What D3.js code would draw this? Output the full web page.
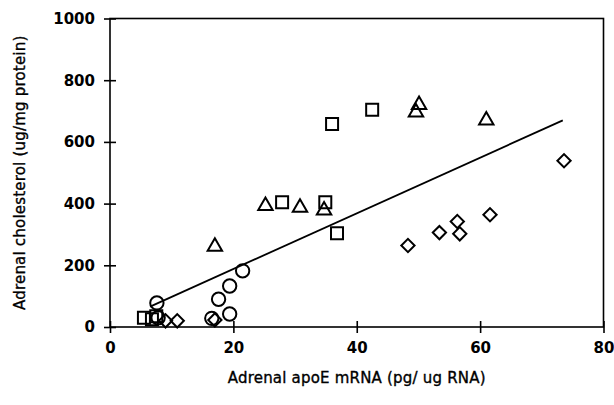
<!DOCTYPE html>
<html><head><meta charset="utf-8">
<script src="https://cdn.jsdelivr.net/npm/d3@7"></script>
<style>body{margin:0;background:#fff}svg{display:block}</style>
</head><body>
<svg id="c" width="614" height="405"></svg>
<script>
const squaresX = [5.5, 6.8, 7.5, 27.9, 34.9, 36.0, 36.8, 42.5];
const squaresY = [30, 25, 35, 404, 404, 658, 304, 704];
const trianglesX = [17.0, 25.2, 30.8, 34.7, 49.6, 50.1, 61.0];
const trianglesY = [261, 393, 387, 378, 696, 720, 670];
const circlesX = [7.6, 7.8, 16.5, 17.6, 19.4, 19.4, 21.5];
const circlesY = [78, 30, 28, 90, 42, 133, 182];
const diamondsX = [9.0, 10.9, 17.0, 48.3, 53.4, 56.3, 56.7, 61.6, 73.6];
const diamondsY = [20, 20, 23, 264, 306, 342, 302, 364, 539];
const fitX = [6.5, 73.4];
const fitY = [66, 670];
const xTicks = [0, 20, 40, 60, 80];
const yTicks = [0, 200, 400, 600, 800, 1000];
const xTitle = "Adrenal apoE mRNA (pg/ ug RNA)";
const yTitle = "Adrenal cholesterol (ug/mg protein)";

const svg = d3.select("#c");
const x = d3.scaleLinear().domain([0, 80]).range([110, 603.5]);
const y = d3.scaleLinear().domain([0, 1000]).range([327, 18.5]);
const font = "'DejaVu Sans', sans-serif";

// frame
svg.append("rect").attr("x", x(0)).attr("y", y(1000))
  .attr("width", x(80) - x(0)).attr("height", y(0) - y(1000))
  .attr("fill", "none").attr("stroke", "#000").attr("stroke-width", 1.6);

// axes with crossing ticks
const xa = svg.append("g").attr("transform", `translate(0,${y(0)})`)
  .call(d3.axisBottom(x).tickValues(xTicks).tickSize(6).tickPadding(9).tickFormat(d3.format("d")));
xa.select(".domain").remove();
xa.selectAll(".tick line").attr("y1", -6).attr("y2", 6).attr("stroke-width", 1.6);
xa.selectAll("text").attr("font-family", font).attr("font-size", 15).attr("font-weight", "bold").attr("fill", "#000");

const ya = svg.append("g").attr("transform", `translate(${x(0)},0)`)
  .call(d3.axisLeft(y).tickValues(yTicks).tickSize(6).tickPadding(9).tickFormat(d3.format("d")));
ya.select(".domain").remove();
ya.selectAll(".tick line").attr("x1", -6).attr("x2", 6).attr("stroke-width", 1.6);
ya.selectAll("text").attr("font-family", font).attr("font-size", 15).attr("font-weight", "bold").attr("fill", "#000");

// fit line
svg.append("path").datum(fitX.map((d, i) => [d, fitY[i]]))
  .attr("d", d3.line().x(d => x(d[0])).y(d => y(d[1])))
  .attr("fill", "none").attr("stroke", "#000").attr("stroke-width", 1.8);

function pts(xs, ys, type, size, rot) {
  svg.append("g").selectAll("path").data(xs.map((d, i) => [d, ys[i]])).join("path")
    .attr("d", d3.symbol().type(type).size(size))
    .attr("transform", d => `translate(${x(d[0])},${y(d[1])}) rotate(${rot})`)
    .attr("fill", "none").attr("stroke", "#000").attr("stroke-width", 2);
}
pts(squaresX, squaresY, d3.symbolSquare, 144, 0);
pts(circlesX, circlesY, d3.symbolCircle, 140, 0);
pts(trianglesX, trianglesY, d3.symbolTriangle, 90, 0);
pts(diamondsX, diamondsY, d3.symbolSquare, 88, 45);

// titles
svg.append("text").attr("x", (x(0) + x(80)) / 2).attr("y", 383).attr("text-anchor", "middle")
  .attr("font-family", font).attr("font-size", 15).attr("letter-spacing", 0.2)
  .attr("stroke", "#000").attr("stroke-width", 0.35).attr("fill", "#000").text(xTitle);
svg.append("text").attr("transform", `translate(25,${(y(0) + y(1000)) / 2}) rotate(-90)`)
  .attr("text-anchor", "middle").attr("font-family", font).attr("font-size", 15).attr("letter-spacing", 0.2)
  .attr("stroke", "#000").attr("stroke-width", 0.35).attr("fill", "#000").text(yTitle);
</script>
</body></html>
